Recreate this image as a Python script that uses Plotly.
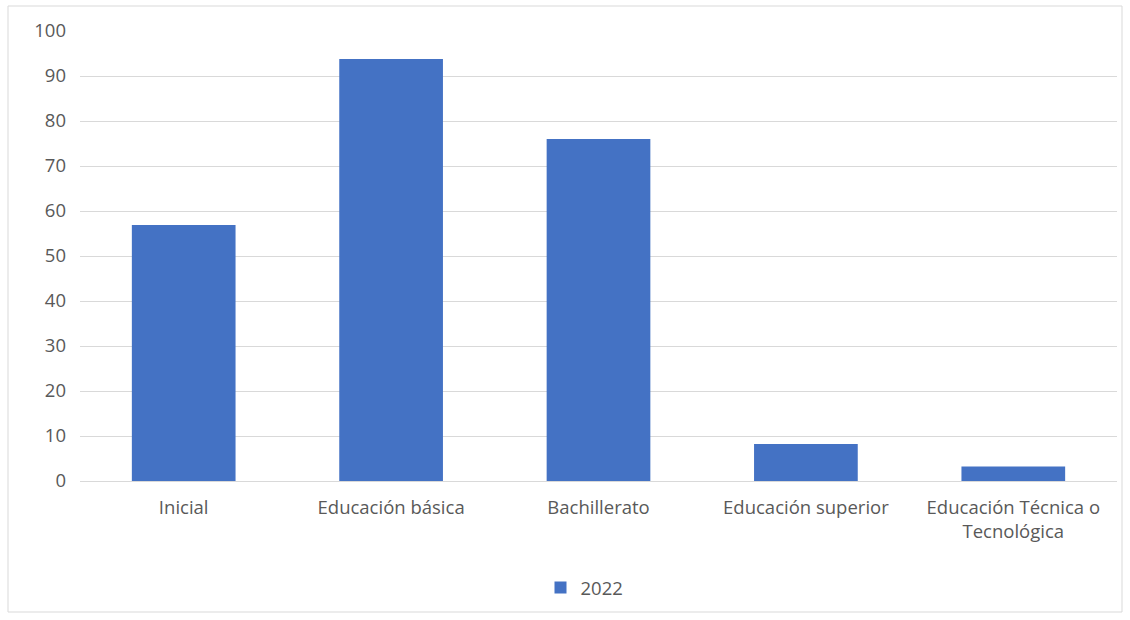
import plotly.graph_objects as go

categories = ["Inicial", "Educación básica", "Bachillerato", "Educación superior",
              "Educación Técnica o<br>Tecnológica"]
values_2022 = [56.9, 93.8, 76.0, 8.2, 3.2]
series_name = "2022"
y_ticks = [0, 10, 20, 30, 40, 50, 60, 70, 80, 90, 100]

W, H = 1130, 620
L, R, T, B = 80, 13, 31, 139
pw, ph = W - L - R, H - T - B

fig = go.Figure()
fig.add_trace(go.Bar(x=categories, y=values_2022, name=series_name,
                     marker=dict(color="#4472C4", line=dict(width=0)),
                     width=0.5))

font = dict(family="Open Sans, Noto Sans, sans-serif", size=18.5, color="#595959")
fig.update_layout(
    width=W, height=H,
    margin=dict(l=L, r=R, t=T, b=B),
    paper_bgcolor="white", plot_bgcolor="white",
    font=font,
    showlegend=True,
    legend=dict(orientation="h", x=0.5 - 14 / pw, xanchor="center", y=(481 - 588) / ph,
                yanchor="middle", font=font, itemwidth=30),
    xaxis=dict(showgrid=False, showline=True, linecolor="#d9d9d9", linewidth=1,
               ticks="", tickfont=font, ticklabelstandoff=10),
    yaxis=dict(range=[0, 100], tickvals=y_ticks, showgrid=True, gridcolor="#d9d9d9",
               gridwidth=1, zeroline=False, showline=False, tickfont=font,
               ticklabelstandoff=13),
    bargap=0.5,
)
fig.add_shape(type="rect", xref="paper", yref="paper",
              x0=(8 - L) / pw, x1=(1122 - L) / pw,
              y0=(H - B - 612) / ph, y1=(H - B - 6) / ph,
              line=dict(color="#d9d9d9", width=1), fillcolor="rgba(0,0,0,0)", layer="below")
fig.write_html("out.html", config={"displayModeBar": False},
               post_script="document.body.style.margin='0';")
